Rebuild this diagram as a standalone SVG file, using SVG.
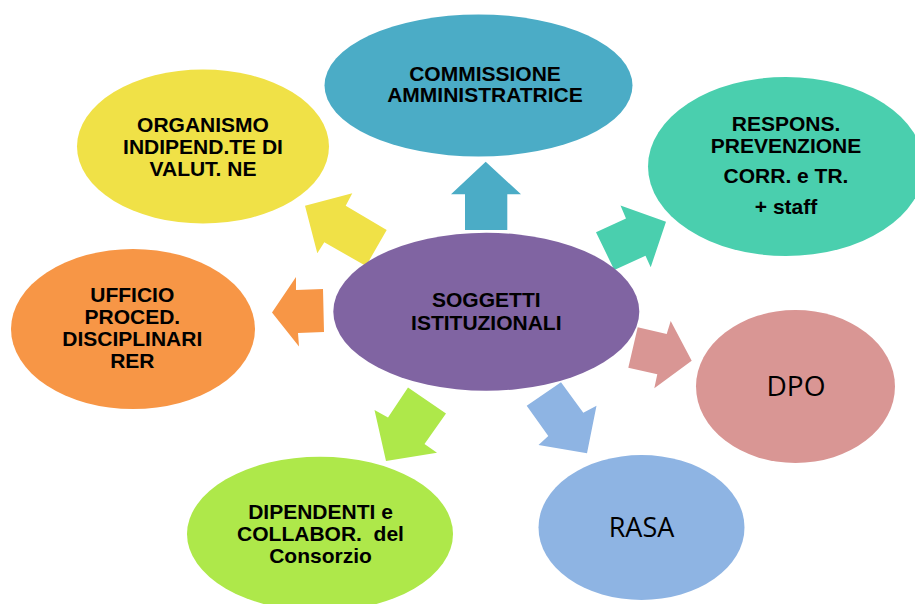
<svg xmlns="http://www.w3.org/2000/svg" width="915" height="604" viewBox="0 0 915 604">
<style>
.b{font-family:"Liberation Sans",Arial,sans-serif;font-weight:bold;font-size:21px;text-anchor:middle;fill:#000}
.r{font-family:"Open Sans","Liberation Sans",sans-serif;font-size:27px;text-anchor:middle;fill:#000}
</style>
<rect width="915" height="604" fill="#fff"/>
<g id="connectors">
<polygon points="485.7,161.7 521,194.3 507.3,194.3 507.3,230 465,230 465,194.3 451,194.3" fill="#4BACC6"/>
<polygon points="305,205.7 352.3,193.3 345.7,205.7 386.7,230 366,266 324.3,242.3 317.3,253.3" fill="#F0E147"/>
<polygon points="666,221.7 650.7,267.3 645.5,255.7 614.3,270 596,232.3 626,218.5 620.5,205.5" fill="#4ACFAE"/>
<polygon points="272,312.5 296,277 296,290 323,289 324,332 298,333 299,346.5" fill="#F79646"/>
<polygon points="691.7,360.7 654.3,388.3 657.3,374.3 628.3,367.7 637.7,327.3 666.7,334 670.7,321" fill="#D99694"/>
<polygon points="587,453.3 538.5,445 548.3,436 526.7,405.7 561,382.3 583.3,412.7 596.5,405.7" fill="#8EB4E3"/>
<polygon points="386,461 374.5,410 388,417.5 408,387.5 446,413.5 424.5,444 437,452.7" fill="#AEE84A"/>
</g>
<g id="commissione">
<ellipse cx="478.5" cy="85.5" rx="154" ry="71" fill="#4BACC6"/>
<text class="b" x="485" y="81">COMMISSIONE</text>
<text class="b" x="485" y="102">AMMINISTRATRICE</text>
</g>
<g id="organismo">
<ellipse cx="203" cy="146.5" rx="126" ry="77" fill="#F0E147"/>
<text class="b" x="203" y="132">ORGANISMO</text>
<text class="b" x="203" y="154">INDIPEND.TE DI</text>
<text class="b" x="203" y="176">VALUT. NE</text>
</g>
<g id="respons">
<ellipse cx="786" cy="166.5" rx="138" ry="89.5" fill="#4ACFAE"/>
<text class="b" x="786" y="131">RESPONS.</text>
<text class="b" x="786" y="152.7">PREVENZIONE</text>
<text class="b" x="786" y="183.3">CORR. e TR.</text>
<text class="b" x="786" y="214.3">+ staff</text>
</g>
<g id="ufficio">
<ellipse cx="133" cy="329" rx="122" ry="80" fill="#F79646"/>
<text class="b" x="132.3" y="302">UFFICIO</text>
<text class="b" x="132.3" y="324">PROCED.</text>
<text class="b" x="132.3" y="346">DISCIPLINARI</text>
<text class="b" x="132.3" y="368">RER</text>
</g>
<g id="soggetti">
<ellipse cx="486.3" cy="311.7" rx="153" ry="79" fill="#8064A2"/>
<text class="b" x="486.3" y="307.3">SOGGETTI</text>
<text class="b" x="486.3" y="330">ISTITUZIONALI</text>
</g>
<g id="dpo">
<ellipse cx="795.5" cy="386.5" rx="99.5" ry="76.5" fill="#D99694"/>
<text class="r" x="796" y="396" style="font-size:28px">DPO</text>
</g>
<g id="rasa">
<ellipse cx="641.5" cy="527.5" rx="103" ry="72.5" fill="#8EB4E3"/>
<text class="r" x="641.5" y="536.7">RASA</text>
</g>
<g id="dipendenti">
<ellipse cx="320" cy="534" rx="133" ry="77.3" fill="#AEE84A"/>
<text class="b" x="320.5" y="519">DIPENDENTI e</text>
<text class="b" x="320.5" y="541" xml:space="preserve">COLLABOR.  del</text>
<text class="b" x="320.5" y="562.7">Consorzio</text>
</g>
</svg>
